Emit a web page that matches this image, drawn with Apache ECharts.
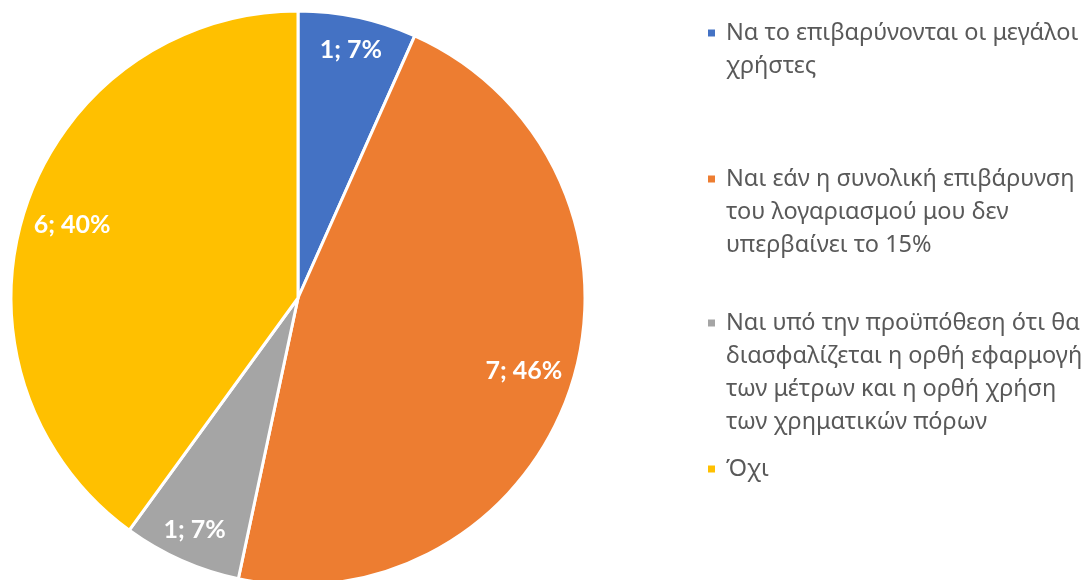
<!DOCTYPE html>
<html>
<head>
<meta charset="utf-8">
<script src="https://cdn.jsdelivr.net/npm/echarts@6/dist/echarts.min.js"></script>
<style>
  html, body { margin: 0; padding: 0; background: #fff; }
  #chart { width: 1086px; height: 580px; }
</style>
</head>
<body>
<div id="chart"></div>
<script>
// κατηγορίες και τιμές
const categories = [
  'Να το επιβαρύνονται οι μεγάλοι χρήστες',
  'Ναι εάν η συνολική επιβάρυνση του λογαριασμού μου δεν υπερβαίνει το 15%',
  'Ναι υπό την προϋπόθεση ότι θα διασφαλίζεται η ορθή εφαρμογή των μέτρων και η ορθή χρήση των χρηματικών πόρων',
  'Όχι'
]
// όπως τυλίγονται στο υπόμνημα
const legendLines = [
  ['Να το επιβαρύνονται οι μεγάλοι', 'χρήστες'],
  ['Ναι εάν η συνολική επιβάρυνση', 'του λογαριασμού μου δεν', 'υπερβαίνει το 15%'],
  ['Ναι υπό την προϋπόθεση ότι θα', 'διασφαλίζεται η ορθή εφαρμογή', 'των μέτρων και η ορθή χρήση', 'των χρηματικών πόρων'],
  ['Όχι']
]
const counts = [1, 7, 1, 6]
const percents = [7, 46, 7, 40]
const colors = ['#4472C4', '#ED7D31', '#A5A5A5', '#FFC000']

const cx = 298, cy = 298, R = 287
const lineH = 33
const firstLineY = [33, 179, 323, 469]

const chart = echarts.init(document.getElementById('chart'))

const pieData = categories.map((name, i) => ({
  name: name,
  value: counts[i],
  itemStyle: { color: colors[i] }
}))

// διαφανή δαχτυλίδια μόνο για τις ετικέτες (διαφορετική απόσταση από το κέντρο)
const labelSeries = (inner, show) => ({
  type: 'pie',
  silent: true,
  radius: [inner, R],
  center: [cx, cy],
  startAngle: 90,
  animation: false,
  itemStyle: { color: 'transparent', borderWidth: 0 },
  labelLine: { show: false },
  label: {
    position: 'inside',
    color: '#fff',
    fontSize: 25,
    fontWeight: 'bold',
    fontFamily: 'Lato, "Noto Sans", sans-serif',
    formatter: p => counts[p.dataIndex] + '; ' + percents[p.dataIndex] + '%'
  },
  data: categories.map((name, i) => ({
    name: name,
    value: counts[i],
    label: { show: show.includes(i) }
  }))
})

// ένα υπόμνημα ανά κατηγορία, το τετράγωνο στο ύψος της πρώτης γραμμής
const legends = categories.map((name, i) => {
  const n = legendLines[i].length
  return {
    data: [name],
    left: 706,
    top: firstLineY[i] - ((2 * n - 1) * lineH) / 2,
    padding: 0,
    itemWidth: 9,
    itemHeight: 9,
    icon: 'rect',
    selectedMode: false,
    formatter: () => '\n'.repeat(n - 1) + legendLines[i].join('\n'),
    textStyle: {
      color: '#595959',
      fontSize: 23.5,
      fontFamily: '"Noto Sans", sans-serif',
      lineHeight: lineH,
      padding: [0, 0, 0, 5]
    }
  }
})

const option = {
  backgroundColor: '#fff',
  animation: false,
  legend: legends,
  series: [
    {
      type: 'pie',
      radius: [0, R],
      center: [cx, cy],
      startAngle: 90,
      clockwise: true,
      label: { show: false },
      labelLine: { show: false },
      emphasis: { disabled: true },
      itemStyle: { borderColor: '#fff', borderWidth: 3 },
      data: pieData
    },
    labelSeries(215, [0, 2]),
    labelSeries(182, [1, 3])
  ]
}

chart.setOption(option)
</script>
</body>
</html>
